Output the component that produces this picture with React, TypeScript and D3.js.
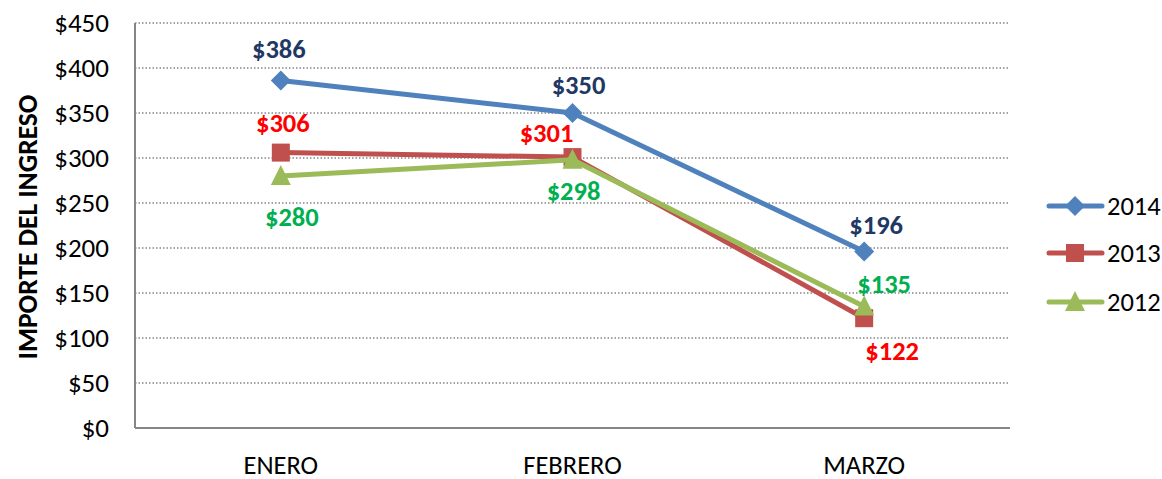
import React from "react";
import * as d3 from "d3";

const categories = ["ENERO", "FEBRERO", "MARZO"];
const seriesNames = ["2014", "2013", "2012"];
const values2014 = [386, 350, 196];
const values2013 = [306, 301, 122];
const values2012 = [280, 298, 135];
const yTicks = [0, 50, 100, 150, 200, 250, 300, 350, 400, 450];

const lineColors = ["#4F81BD", "#C0504D", "#9BBB59"];
const labelColors = ["#1F3864", "#FF0000", "#00B050"];
// label offsets (dx, dy) relative to the point, per series per category
const labelOffsets = [
  [[-2, -32], [6, -28], [12, -27]],
  [[2, -30], [-26, -24], [28, 33]],
  [[11, 41], [1, 31], [20, -23]],
];

const W = 1162, H = 479;
const left = 135, right = 1010, top = 23, bottom = 428;
const FONT = "Carlito, Calibri, Lato, 'Open Sans', sans-serif";

function Marker({ type, x, y, color }: { type: number; x: number; y: number; color: string }) {
  if (type === 0) {
    const r = 10;
    return <path d={`M${x},${y - r}L${x + r},${y}L${x},${y + r}L${x - r},${y}Z`} fill={color} />;
  }
  if (type === 1) {
    const s = 18;
    return <rect x={x - s / 2} y={y - s / 2} width={s} height={s} fill={color} />;
  }
  const s = 20;
  return <path d={`M${x},${y - s * 0.55}L${x + s / 2},${y + s * 0.45}L${x - s / 2},${y + s * 0.45}Z`} fill={color} />;
}

export default function App() {
  const x = d3.scaleBand().domain(categories).range([left, right]);
  const y = d3.scaleLinear().domain([0, 450]).range([bottom, top]);
  const cx = (c: string) => (x(c) as number) + x.bandwidth() / 2;
  const allSeries = [values2014, values2013, values2012];
  const line = d3.line<number>().x((_, i) => cx(categories[i])).y((v) => y(v));
  const fmt = (v: number) => "$" + d3.format("d")(v);
  const legendY = [206, 253, 302];

  return (
    <svg width={W} height={H} style={{ position: "absolute", left: 0, top: 0, background: "#fff" }} fontFamily={FONT}>
      {yTicks.slice(1).map((t) => (
        <line key={t} x1={left} x2={right} y1={y(t)} y2={y(t)} stroke="#888" strokeWidth={1.3} strokeDasharray="1.5 2" />
      ))}
      <line x1={left} x2={left} y1={top} y2={bottom} stroke="#868686" strokeWidth={2} />
      <line x1={left} x2={right} y1={bottom} y2={bottom} stroke="#868686" strokeWidth={2} />
      {yTicks.map((t) => (
        <text key={t} x={109} y={y(t)} dy="0.35em" textAnchor="end" fontSize={27} fill="#000">
          {fmt(t)}
        </text>
      ))}
      {categories.map((c) => (
        <text key={c} x={cx(c)} y={473.5} textAnchor="middle" fontSize={26.5} fill="#000">
          {c}
        </text>
      ))}
      <text transform={`translate(37,${227}) rotate(-90)`} textAnchor="middle" fontSize={27.5} fontWeight="bold" fill="#000">
        IMPORTE DEL INGRESO
      </text>
      {allSeries.map((vals, si) => (
        <g key={si}>
          <path d={line(vals) || ""} fill="none" stroke={lineColors[si]} strokeWidth={5} strokeLinejoin="round" strokeLinecap="round" />
          {vals.map((v, i) => (
            <Marker key={i} type={si} x={cx(categories[i])} y={y(v)} color={lineColors[si]} />
          ))}
        </g>
      ))}
      {allSeries.map((vals, si) =>
        vals.map((v, i) => (
          <text key={`${si}-${i}`} x={cx(categories[i]) + labelOffsets[si][i][0]} y={y(v) + labelOffsets[si][i][1]} dy="0.35em" textAnchor="middle" fontSize={26.5} fontWeight="bold" fill={labelColors[si]}>
            {fmt(v)}
          </text>
        ))
      )}
      {seriesNames.map((n, si) => (
        <g key={n}>
          <line x1={1049} x2={1102} y1={legendY[si]} y2={legendY[si]} stroke={lineColors[si]} strokeWidth={5} strokeLinecap="round" />
          <Marker type={si} x={1075} y={legendY[si]} color={lineColors[si]} />
          <text x={1107} y={legendY[si]} dy="0.35em" fontSize={26.5} fill="#000">
            {n}
          </text>
        </g>
      ))}
    </svg>
  );
}
